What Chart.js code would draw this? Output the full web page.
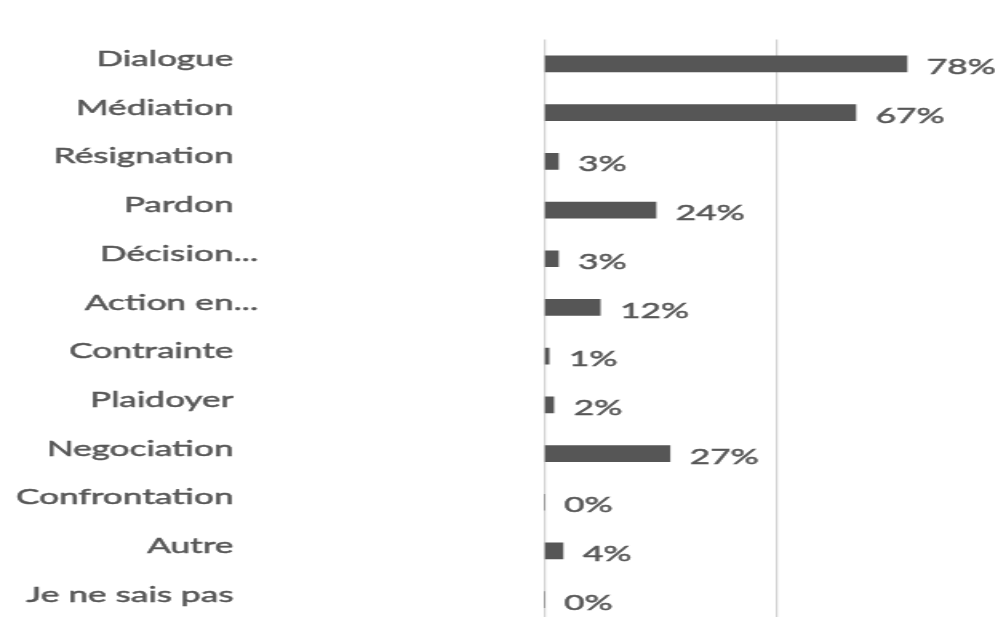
<!DOCTYPE html>
<html>
<head>
<meta charset="utf-8">
<script src="https://cdn.jsdelivr.net/npm/chart.js@4/dist/chart.umd.min.js"></script>
<style>
  html, body { margin: 0; padding: 0; background: #fff; overflow: hidden; width: 995px; height: 617px; }
  /* the chart is drawn narrow and then widened horizontally */
  #wrap { position: absolute; left: 0; top: 0; height: 630px; transform-origin: 0 0; }
</style>
</head>
<body>
<div id="wrap"><canvas id="c"></canvas></div>
<script>
const categories = ['Dialogue', 'Médiation', 'Résignation', 'Pardon', 'Décision...', 'Action en...',
                    'Contrainte', 'Plaidoyer', 'Negociation', 'Confrontation', 'Autre', 'Je ne sais pas'];
const percentages = [78, 67, 3, 24, 3, 12, 1, 2, 27, 0, 4, 0];
const gridTicks = [0, 50, 100];

const TEXT_COLOR = '#575757';
const FONT = '22px Lato';

// page-space layout (px, after widening)
const PAGE_AXIS_LEFT = 543.4;    // value 0
const PAGE_AXIS_RIGHT = 1007.5;  // value 100 (just past the window edge)
const PAGE_LABEL_RIGHT = 233;    // right edge of category names
const PAGE_LABEL_GAP = 20;       // gap between bar end and value label
const PAGE_WIDEST_LABEL = 217;   // rendered width of "Confrontation"

function draw() {
  // horizontal widening factor so the category text has the wide look
  const probe = document.createElement('canvas').getContext('2d');
  probe.font = FONT;
  const stretch = PAGE_WIDEST_LABEL / probe.measureText('Confrontation').width;

  const wrap = document.getElementById('wrap');
  wrap.style.width = (PAGE_AXIS_RIGHT / stretch) + 'px';
  wrap.style.transform = 'scaleX(' + stretch + ')';

  const axisLeft = PAGE_AXIS_LEFT / stretch;
  const labelRight = PAGE_LABEL_RIGHT / stretch;
  const labelGap = PAGE_LABEL_GAP / stretch;

  // category names (ellipsis hanging past the right edge) and value labels
  const labelPlugin = {
    id: 'barLabels',
    afterDatasetsDraw(chart) {
      const ctx = chart.ctx;
      const yScale = chart.scales.y;
      const meta = chart.getDatasetMeta(0);
      ctx.save();
      ctx.font = FONT;
      ctx.fillStyle = TEXT_COLOR;
      ctx.strokeStyle = TEXT_COLOR;
      ctx.lineWidth = 0.5;
      ctx.textBaseline = 'middle';
      ctx.textAlign = 'left';
      const put = (t, x, y) => { ctx.fillText(t, x, y); ctx.strokeText(t, x, y); };
      categories.forEach((name, i) => {
        const y = yScale.getPixelForValue(i) - 5;
        const base = name.replace(/\.\.\.$/, '');
        put(name, labelRight - ctx.measureText(base).width, y);
      });
      meta.data.forEach((bar, i) => {
        put(percentages[i] + '%', bar.x + labelGap, bar.y + 3);
      });
      ctx.restore();
    }
  };

  new Chart(document.getElementById('c'), {
    type: 'bar',
    data: {
      labels: categories,
      datasets: [{
        data: percentages,
        backgroundColor: '#565656',
        borderWidth: 0,
        barThickness: 16
      }]
    },
    options: {
      indexAxis: 'y',
      responsive: true,
      maintainAspectRatio: false,
      animation: false,
      layout: { padding: { top: 39.6, bottom: 6, left: 0, right: 0 } },
      plugins: { legend: { display: false }, tooltip: { enabled: false } },
      scales: {
        x: {
          min: 0, max: 100,
          afterBuildTicks: s => { s.ticks = gridTicks.map(v => ({ value: v })); },
          ticks: { display: false },
          grid: { color: '#d4d4d4', lineWidth: 2 / stretch, drawTicks: false },
          border: { display: false },
          afterFit: s => { s.height = 0; }
        },
        y: {
          ticks: { display: false },
          grid: { display: false },
          border: { display: false },
          afterFit: s => { s.width = axisLeft; }
        }
      }
    },
    plugins: [labelPlugin]
  });
}

if (document.fonts && document.fonts.load) {
  document.fonts.load(FONT).then(draw, draw);
} else {
  draw();
}
</script>
</body>
</html>
